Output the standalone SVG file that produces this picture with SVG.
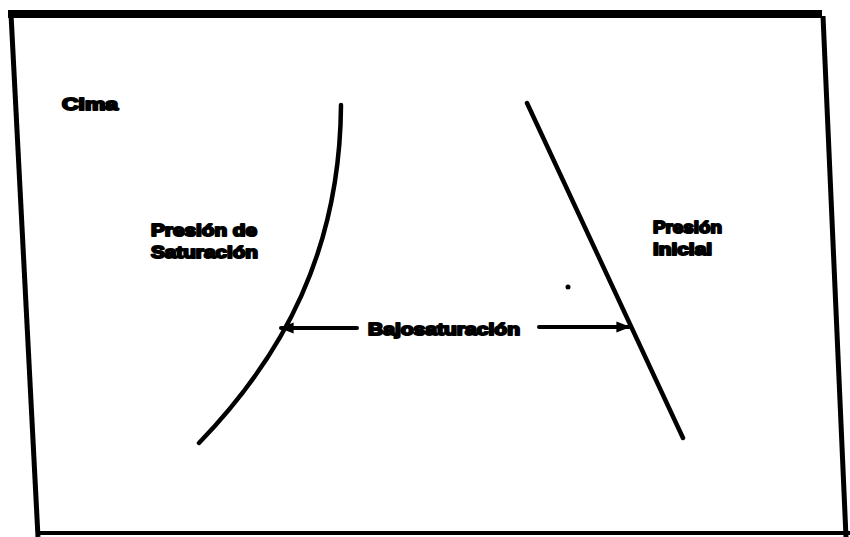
<svg xmlns="http://www.w3.org/2000/svg" width="850" height="537" viewBox="0 0 850 537">
<defs>
<style>
.lbl{font-family:"Liberation Sans",Arial,sans-serif;font-weight:bold;font-size:17px;fill:#000;stroke:#000;stroke-width:2px;stroke-linejoin:round}
.crv{fill:none;stroke:#000;stroke-width:4.5;stroke-linecap:round}
.arr{fill:none;stroke:#000;stroke-width:4;stroke-linecap:round}
</style>
<marker id="ah" viewBox="0 0 10 10" refX="9" refY="5" markerWidth="3.5" markerHeight="3.5" orient="auto-start-reverse" markerUnits="strokeWidth">
<path d="M0,1 L10,5 L0,9 z" fill="#000"/>
</marker>
</defs>
<rect x="0" y="0" width="850" height="537" fill="#fff"/>
<g id="frame" fill="none" stroke="#000" stroke-linejoin="miter">
<line x1="8" y1="14" x2="822" y2="14" stroke-width="8"/>
<line x1="11" y1="14" x2="38" y2="537" stroke-width="5"/>
<line x1="823" y1="16" x2="846" y2="537" stroke-width="5"/>
<line x1="36" y1="533" x2="850" y2="533" stroke-width="4"/>
</g>
<g id="curves">
<path id="saturacion-curve" class="crv" d="M341,105 C340,250 284,355 199,443"/>
<path id="inicial-line" class="crv" d="M527,103 L683,438"/>
</g>
<g id="connectors">
<line class="arr" x1="357" y1="328" x2="281" y2="328" marker-end="url(#ah)"/>
<line class="arr" x1="539" y1="327" x2="629" y2="327" marker-end="url(#ah)"/>
</g>
<circle cx="568" cy="287" r="2.5" fill="#000"/>
<g id="label-cima"><text class="lbl" x="62" y="110" textLength="56" lengthAdjust="spacingAndGlyphs">Cima</text></g>
<g id="label-saturacion">
<text class="lbl" x="151" y="236" textLength="106" lengthAdjust="spacingAndGlyphs">Presión de</text>
<text class="lbl" x="151" y="258" textLength="107" lengthAdjust="spacingAndGlyphs">Saturación</text>
</g>
<g id="label-inicial">
<text class="lbl" x="653" y="233" textLength="69" lengthAdjust="spacingAndGlyphs">Presión</text>
<text class="lbl" x="653" y="255" textLength="59" lengthAdjust="spacingAndGlyphs">inicial</text>
</g>
<g id="label-bajo"><text class="lbl" x="368" y="335" textLength="152" lengthAdjust="spacingAndGlyphs">Bajosaturación</text></g>
</svg>
